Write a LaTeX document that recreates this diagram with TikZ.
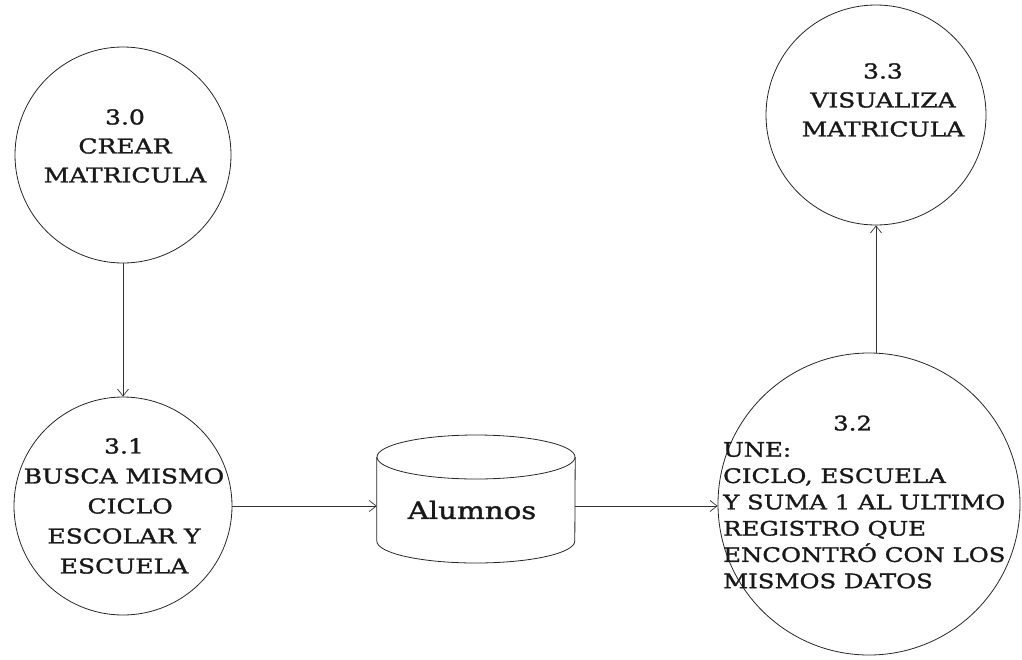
\documentclass[tikz,border=0pt]{standalone}
\usepackage{fontspec}
\setmainfont{DejaVu Serif}[FakeStretch=1.22,FakeBold=1.4]
\usetikzlibrary{arrows.meta}
\begin{document}
\begin{tikzpicture}[x=1pt,y=-1pt,
  proc/.style={circle,draw=black!85,line width=0.8pt,inner sep=0pt},
  flow/.style={draw=black!80,line width=0.7pt,-{Straight Barb[length=7pt,width=11pt]}},
  big/.style={font=\fontsize{20.5}{29}\selectfont,align=center,text=black!90},
]
\useasboundingbox (0,0) rectangle (1022,659);
% processes
\node[proc,minimum size=216pt] (c30) at (123,155) {};
\node[proc,minimum size=218pt] (c31) at (123,506) {};
\node[proc,minimum size=220pt] (c33) at (876,115) {};
\node[proc,minimum size=302pt] (c32) at (869,504) {};
% labels
\node[big] (t30) at (125,146) {3.0\\CREAR\\MATRICULA};
\node[big,font=\fontsize{20.5}{30}\selectfont] (t31) at (124,506) {3.1\\BUSCA MISMO\\\hspace*{0.6em}CICLO\\ESCOLAR Y\\ESCUELA};
\node[big] (t33) at (883,100) {3.3\\VISUALIZA\\MATRICULA};
\node[align=left,anchor=west,inner sep=0pt,text=black!90,font=\fontsize{20}{26.3}\selectfont] (t32) at (723,502)
  {\hspace*{110pt}3.2\\UNE:\\CICLO, ESCUELA\\Y SUMA 1 AL ULTIMO\\REGISTRO QUE\\ENCONTRÓ CON LOS\\MISMOS DATOS};
% data store
\node[minimum width=198pt,minimum height=2pt,inner sep=0pt] (db) at (476,506) {};
\draw[draw=black!85,line width=0.8pt] ([yshift=49pt]db.west) -- ([yshift=-35pt]db.west)
  arc[start angle=180,end angle=360,x radius=99pt,y radius=22pt] -- ([yshift=49pt]db.east);
\draw[draw=black!85,line width=0.8pt] ([yshift=49pt]db.center) ellipse[x radius=99pt,y radius=22pt];
\node[font=\fontsize{24}{28}\selectfont,text=black!90] (tdb) at (472,510) {Alumnos};
% flows
\draw[flow] (c30) -- (c31);
\draw[flow] (c31) -- (db);
\draw[flow] (db) -- (c32.west |- db);
\draw[flow] (c33.south |- c32.north) -- (c33.south);
\end{tikzpicture}
\end{document}
